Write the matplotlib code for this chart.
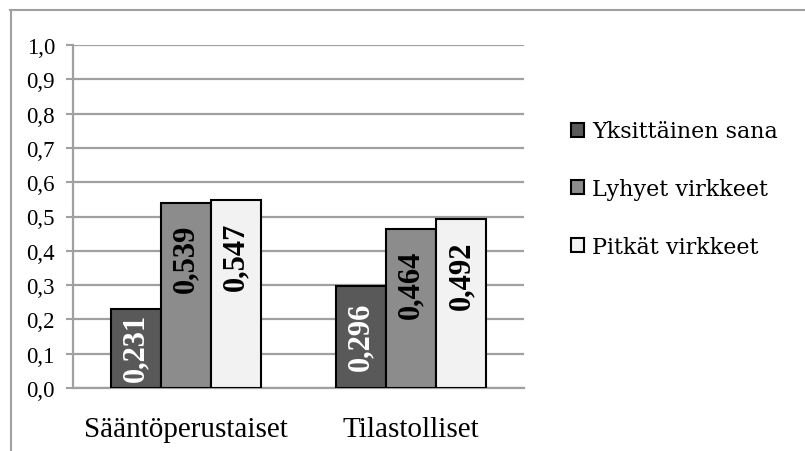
import matplotlib
matplotlib.use("Agg")
import matplotlib.pyplot as plt
from matplotlib.patches import Patch
from matplotlib.lines import Line2D
import numpy as np

categories = ["Sääntöperustaiset", "Tilastolliset"]
series_names = ["Yksittäinen sana", "Lyhyet virkkeet", "Pitkät virkkeet"]
values = [
    [0.231, 0.296],   # Yksittäinen sana
    [0.539, 0.464],   # Lyhyet virkkeet
    [0.547, 0.492],   # Pitkät virkkeet
]
yticks = [0.0, 0.1, 0.2, 0.3, 0.4, 0.5, 0.6, 0.7, 0.8, 0.9, 1.0]

fills = ["#595959", "#8c8c8c", "#f2f2f2"]
label_colors = ["white", "black", "black"]
grid_gray = "#a0a0a0"
serif = "Liberation Serif"

fig = plt.figure(figsize=(8.05, 4.52), dpi=100)
ax = fig.add_axes([73 / 805, 63 / 452, 451 / 805, 343 / 452])

x = np.arange(len(categories))
width = 0.222
label_len = 0.208  # length of a rotated value label, in data units
for i, (name, vals) in enumerate(zip(series_names, values)):
    pos = x + (i - 1) * width
    ax.bar(pos, vals, width, color=fills[i], edgecolor="black", linewidth=1.5,
           label=name, zorder=3)
    for px, v in zip(pos, vals):
        # keep label inside the bar, near its top end
        off = min(0.061, (v - label_len) / 2)
        ax.text(px, v - off, f"{v:.3f}".replace(".", ","), rotation=90,
                ha="center", va="top", fontsize=22, fontweight="bold",
                family=serif, color=label_colors[i], zorder=4)

ax.set_xlim(-0.5, 1.5)
ax.set_ylim(0, 1.0)
ax.set_yticks(yticks)
ax.set_yticklabels([f"{t:.1f}".replace(".", ",") for t in yticks],
                   family=serif, fontsize=16.5)
ax.set_xticks(x)
ax.set_xticklabels(categories, family=serif, fontsize=21)
ax.tick_params(axis="x", length=0, pad=20)
ax.tick_params(axis="y", length=5, width=1.5, color=grid_gray, pad=8)
ax.yaxis.grid(True, color=grid_gray, linewidth=1.6, zorder=0)
ax.set_axisbelow(True)
for side in ["top", "right"]:
    ax.spines[side].set_visible(False)
for side in ["left", "bottom"]:
    ax.spines[side].set_color(grid_gray)
    ax.spines[side].set_linewidth(1.6)

handles = [Patch(facecolor=fills[i], edgecolor="black", linewidth=1.5)
           for i in range(3)]
fig.legend(handles, series_names, loc="center left",
           bbox_to_anchor=(571 / 805, 1 - 190 / 452), frameon=False,
           prop={"family": "DejaVu Serif", "size": 16},
           handlelength=0.6, handleheight=0.6, handletextpad=0.35,
           labelspacing=1.6, borderpad=0, borderaxespad=0)

# chart frame: top and left edges
fig.add_artist(Line2D([10 / 805, 1], [1 - 11 / 452, 1 - 11 / 452],
                      color=grid_gray, linewidth=1.5))
fig.add_artist(Line2D([11 / 805, 11 / 805], [0, 1 - 11 / 452],
                      color=grid_gray, linewidth=1.5))

fig.savefig("out.png", dpi=100)
